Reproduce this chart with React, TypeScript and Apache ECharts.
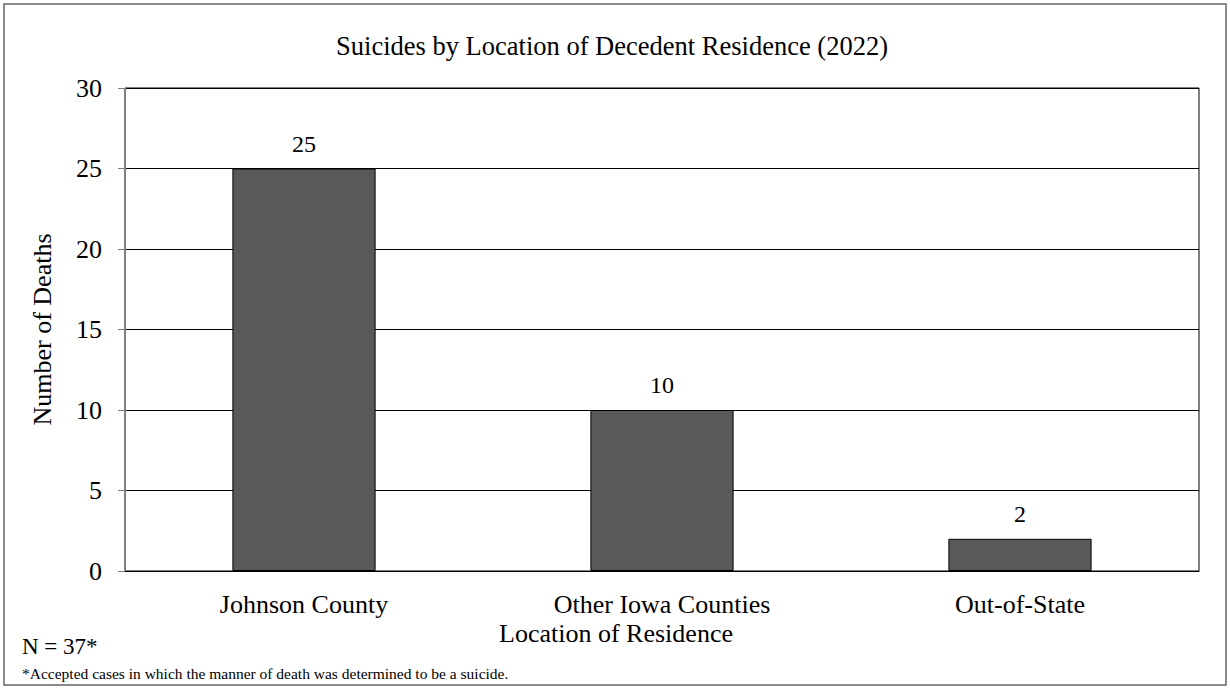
import React, { useEffect, useRef } from "react";
import * as echarts from "echarts";

const categories = ["Johnson County", "Other Iowa Counties", "Out-of-State"];
const deaths = [25, 10, 2];
const titleText = "Suicides by Location of Decedent Residence (2022)";
const yAxisName = "Number of Deaths";
const xAxisName = "Location of Residence";
const nText = "N = 37*";
const footnote = "*Accepted cases in which the manner of death was determined to be a suicide.";

const FONT = "'Liberation Serif', 'Times New Roman', serif";

export default function App() {
  const ref = useRef<HTMLDivElement>(null);
  useEffect(() => {
    if (!ref.current) return;
    const chart = echarts.init(ref.current, null, { renderer: "svg" });
    chart.setOption({
      animation: false,
      backgroundColor: "#fff",
      textStyle: { fontFamily: FONT, color: "#000" },
      grid: {
        left: 125,
        top: 88,
        right: 31,
        bottom: 117,
        show: true,
        borderColor: "#000",
        borderWidth: 1,
      },
      xAxis: {
        type: "category",
        data: categories,
        axisLine: { show: true, lineStyle: { color: "#000", width: 1 } },
        axisTick: { show: false },
        axisLabel: { fontFamily: FONT, fontSize: 26, color: "#000", margin: 20 },
      },
      yAxis: {
        type: "value",
        min: 0,
        max: 30,
        interval: 5,
        name: yAxisName,
        nameLocation: "middle",
        nameGap: 70,
        nameRotate: 90,
        nameTextStyle: { fontFamily: FONT, fontSize: 26, color: "#000" },
        axisLine: { show: true, lineStyle: { color: "#7f7f7f", width: 1 } },
        axisTick: { show: true, length: 7, lineStyle: { color: "#7f7f7f" } },
        axisLabel: { fontFamily: FONT, fontSize: 26, color: "#000", margin: 23 },
        splitLine: { show: true, lineStyle: { color: "#000", width: 1 } },
      },
      series: [
        {
          type: "bar",
          data: deaths,
          barWidth: "40%",
          itemStyle: { color: "#595959", borderColor: "#000", borderWidth: 1 },
          label: {
            show: true,
            position: "top",
            distance: 13,
            fontFamily: FONT,
            fontSize: 24,
            color: "#000",
          },
        },
      ],
      graphic: [
        {
          type: "rect",
          shape: { x: 4, y: 4, width: 1222, height: 681 },
          style: { fill: "none", stroke: "#666", lineWidth: 1.5 },
          silent: true,
        },
        {
          type: "text",
          x: 612,
          y: 46,
          style: {
            text: titleText,
            fontFamily: FONT,
            fontSize: 26.5,
            fill: "#000",
            textAlign: "center",
            textVerticalAlign: "middle",
          },
        },
        {
          type: "text",
          x: 616,
          y: 633,
          style: {
            text: xAxisName,
            fontFamily: FONT,
            fontSize: 26,
            fill: "#000",
            textAlign: "center",
            textVerticalAlign: "middle",
          },
        },
        {
          type: "text",
          x: 22,
          y: 646,
          style: {
            text: nText,
            fontFamily: FONT,
            fontSize: 23,
            fill: "#000",
            textAlign: "left",
            textVerticalAlign: "middle",
          },
        },
        {
          type: "text",
          x: 22,
          y: 673,
          style: {
            text: footnote,
            fontFamily: FONT,
            fontSize: 15.5,
            fill: "#000",
            textAlign: "left",
            textVerticalAlign: "middle",
          },
        },
      ],
    });
    return () => chart.dispose();
  }, []);
  return (
    <div
      ref={ref}
      style={{ position: "fixed", left: 0, top: 0, width: 1230, height: 688 }}
    />
  );
}
